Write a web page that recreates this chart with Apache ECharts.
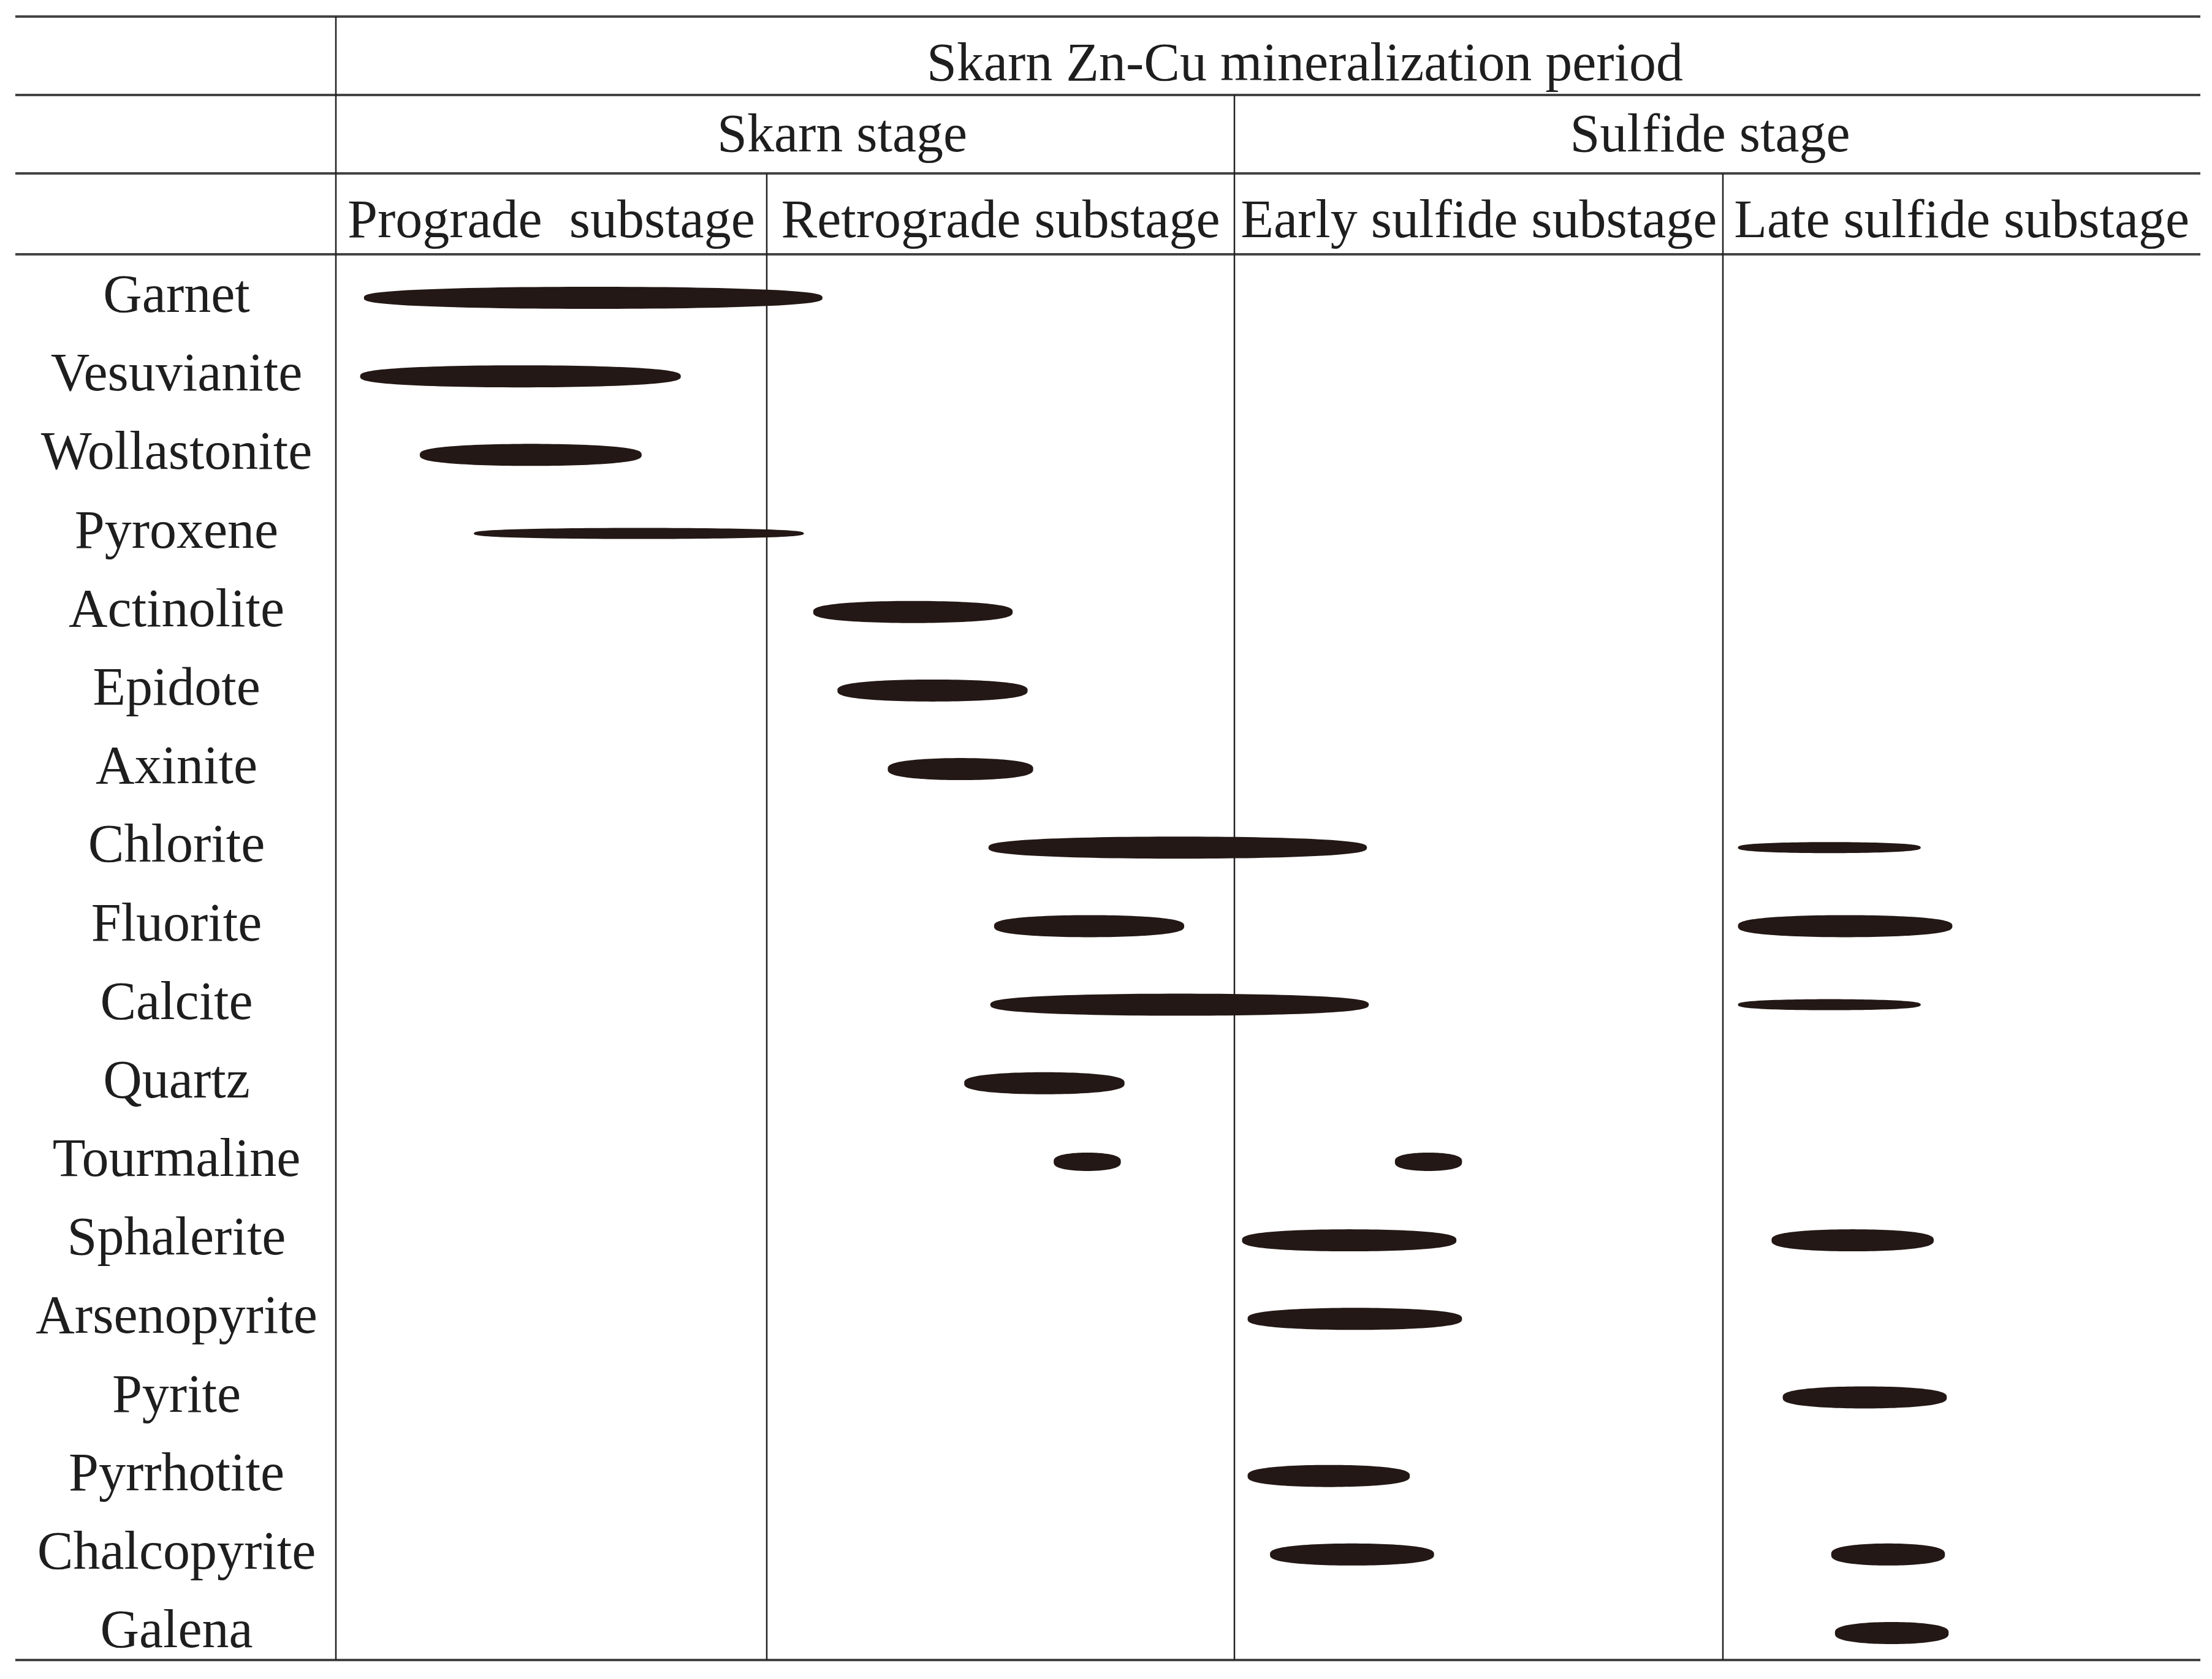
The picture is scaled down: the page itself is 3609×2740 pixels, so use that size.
<!DOCTYPE html>
<html>
<head>
<meta charset="utf-8">
<title>Skarn Zn-Cu mineralization paragenesis</title>
<script src="https://cdn.jsdelivr.net/npm/echarts@6/dist/echarts.min.js"></script>
<style>
html,body{margin:0;padding:0;background:#fff;}
#main{width:3609px;height:2740px;}
</style>
</head>
<body>
<div id="main"></div>
<script>
var minerals = ['Garnet','Vesuvianite','Wollastonite','Pyroxene','Actinolite','Epidote','Axinite',
    'Chlorite','Fluorite','Calcite','Quartz','Tourmaline','Sphalerite','Arsenopyrite','Pyrite',
    'Pyrrhotite','Chalcopyrite','Galena'];

// relative time: 0 = start of prograde substage, 100 = end of late sulfide substage
var stageBounds = [0, 23.1, 48.2, 74.4, 100];
var period = 'Skarn Zn-Cu mineralization period';
var stages = ['Skarn stage', 'Sulfide stage'];
var substages = ['Prograde  substage', 'Retrograde substage', 'Early sulfide substage', 'Late sulfide substage'];

// [mineral, start, end, abundance (1 minor .. 3 major)]
var occurrences = [
    ['Garnet', 1.5, 26.1, 3],
    ['Vesuvianite', 1.3, 18.5, 3],
    ['Wollastonite', 4.5, 16.4, 3],
    ['Pyroxene', 7.4, 25.1, 1],
    ['Actinolite', 25.6, 36.3, 3],
    ['Epidote', 26.9, 37.1, 3],
    ['Axinite', 29.6, 37.4, 3],
    ['Chlorite', 35.0, 55.3, 3],
    ['Chlorite', 75.2, 85.0, 1],
    ['Fluorite', 35.3, 45.5, 3],
    ['Fluorite', 75.2, 86.7, 3],
    ['Calcite', 35.1, 55.4, 3],
    ['Calcite', 75.2, 85.0, 1],
    ['Quartz', 33.7, 42.3, 3],
    ['Tourmaline', 38.5, 42.1, 2],
    ['Tourmaline', 56.8, 60.4, 2],
    ['Sphalerite', 48.6, 60.1, 3],
    ['Sphalerite', 77.0, 85.7, 3],
    ['Arsenopyrite', 48.9, 60.4, 3],
    ['Pyrite', 77.6, 86.4, 3],
    ['Pyrrhotite', 48.9, 57.6, 3],
    ['Chalcopyrite', 50.1, 58.9, 3],
    ['Chalcopyrite', 80.2, 86.3, 3],
    ['Galena', 80.4, 86.5, 3]
];

var FONT = '"Liberation Serif", "Times New Roman", serif';
var INK = '#231815';
var barHeight = {1: 18, 2: 30, 3: 36};
var ruleLeft = 25, ruleRight = 3590;
var ruleY = [27, 155, 283, 415, 2709];
var headerY = [108, 224, 364];

var chart = echarts.init(document.getElementById('main'));

var barData = occurrences.map(function (o) {
    return [o[1], o[2], minerals.indexOf(o[0]), o[3]];
});

// lens-shaped mark: a slightly "full" ellipse between start and end
function renderBar(params, api) {
    var row = api.value(2);
    var p0 = api.coord([api.value(0), row]);
    var p1 = api.coord([api.value(1), row]);
    var rx = (p1[0] - p0[0]) / 2;
    var ry = barHeight[api.value(3)] / 2;
    var cx = (p0[0] + p1[0]) / 2, cy = p0[1];
    var pts = [];
    for (var i = 0; i < 120; i++) {
        var t = i / 120 * Math.PI * 2;
        var s = Math.sin(t);
        pts.push([cx + rx * Math.cos(t), cy + ry * (s < 0 ? -1 : 1) * Math.pow(Math.abs(s), 0.7)]);
    }
    return {type: 'polygon', shape: {points: pts}, style: {fill: INK}};
}

chart.setOption({
    backgroundColor: '#fff',
    animation: false,
    grid: {left: 548, right: 19, top: 486, bottom: 75},
    xAxis: {type: 'value', min: 0, max: 100, show: false, splitLine: {show: false}},
    yAxis: {
        type: 'category',
        data: minerals,
        inverse: true,
        boundaryGap: false,
        axisLine: {show: false},
        axisTick: {show: false},
        splitLine: {show: false},
        axisLabel: {
            margin: 260,
            align: 'center',
            fontSize: 88,
            fontFamily: FONT,
            color: '#1e1e1e'
        }
    },
    series: [{
        type: 'custom',
        renderItem: renderBar,
        encode: {x: [0, 1], y: 2},
        data: barData,
        clip: false
    }]
});

function px(v) {
    return chart.convertToPixel({xAxisIndex: 0}, v);
}

var graphics = [];
ruleY.forEach(function (y) {
    graphics.push({
        type: 'line',
        shape: {x1: ruleLeft, y1: y, x2: ruleRight, y2: y},
        style: {stroke: '#444', lineWidth: 4}
    });
});

// vertical dividers: which header row each boundary starts from
var dividerTop = [0, 2, 1, 2];
dividerTop.forEach(function (r, i) {
    var x = Math.round(px(stageBounds[i]));
    graphics.push({
        type: 'line',
        shape: {x1: x, y1: ruleY[r], x2: x, y2: ruleY[4]},
        style: {stroke: '#222', lineWidth: 2.5}
    });
});

function headerText(text, x, y) {
    graphics.push({
        type: 'text',
        x: x,
        y: y,
        style: {
            text: text,
            fontSize: 88,
            fontFamily: FONT,
            fill: '#1e1e1e',
            align: 'center',
            verticalAlign: 'middle'
        }
    });
}

headerText(period, (px(stageBounds[0]) + px(stageBounds[4])) / 2 + 60, headerY[0]);
headerText(stages[0], (px(stageBounds[0]) + px(stageBounds[2])) / 2 + 93, headerY[1]);
headerText(stages[1], (px(stageBounds[2]) + px(stageBounds[4])) / 2 - 12, headerY[1]);
substages.forEach(function (s, i) {
    headerText(s, (px(stageBounds[i]) + px(stageBounds[i + 1])) / 2, headerY[2]);
});

chart.setOption({graphic: graphics});
</script>
</body>
</html>
